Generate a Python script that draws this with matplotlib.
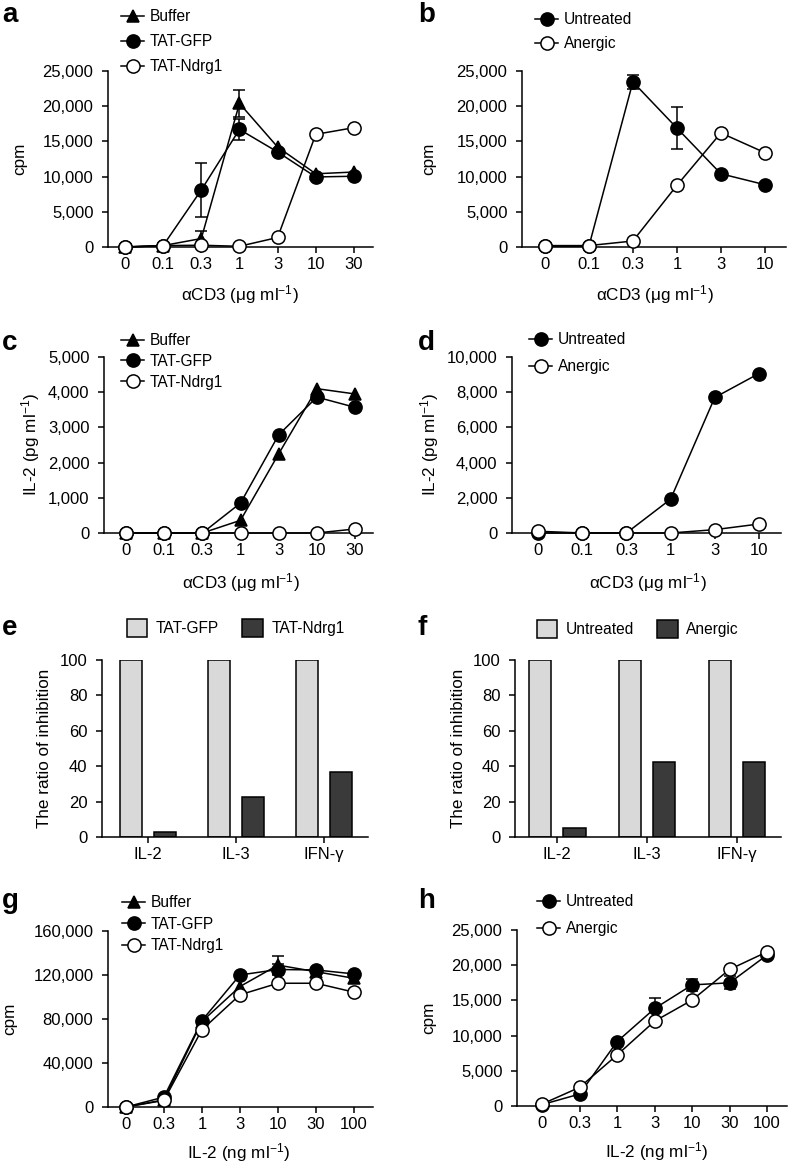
import numpy as np
import matplotlib
matplotlib.use("Agg")
import matplotlib.pyplot as plt
from matplotlib.lines import Line2D
from matplotlib.patches import Patch
from matplotlib.ticker import FuncFormatter

plt.rcParams["font.family"] = ["Liberation Sans", "DejaVu Sans"]
plt.rcParams["mathtext.fontset"] = "custom"
plt.rcParams["mathtext.rm"] = "Liberation Sans"
plt.rcParams["mathtext.it"] = "Liberation Sans:italic"
plt.rcParams["mathtext.default"] = "regular"

W, H = 788, 1162
FS = 12       # tick labels
FS_LAB = 12.3  # axis labels
FS_LEG = 11.2  # legends
LIGHT = "#d9d9d9"
DARK = "#3a3a3a"

# ---- data ----
cd3_7 = ["0", "0.1", "0.3", "1", "3", "10", "30"]
cd3_6 = ["0", "0.1", "0.3", "1", "3", "10"]
il2_dose = ["0", "0.3", "1", "3", "10", "30", "100"]
cytokines = ["IL-2", "IL-3", "IFN-γ"]

# a: proliferation vs aCD3 (cpm)
a_buffer = [0, 200, 1200, 20400, 14200, 10400, 10650]
a_buffer_err = [0, 0, 1100, 1900, 0, 0, 0]
a_gfp = [0, 200, 8100, 16700, 13500, 9950, 10050]
a_gfp_err = [0, 0, 3900, 1500, 0, 0, 0]
a_ndrg1 = [0, 200, 250, 100, 1350, 16000, 16950]

# b
b_untreated = [100, 100, 23450, 16900, 10400, 8850]
b_untreated_err = [0, 0, 950, 3050, 0, 0]
b_anergic = [200, 200, 850, 8750, 16200, 13400]

# c: IL-2 (pg/ml)
c_buffer = [0, 0, 0, 360, 2250, 4100, 3950]
c_gfp = [0, 0, 0, 850, 2790, 3860, 3570]
c_ndrg1 = [0, 0, 0, 0, 0, 0, 115]

# d
d_untreated = [0, 0, 0, 1920, 7700, 9060]
d_anergic = [100, 0, 0, 0, 190, 510]

# e, f: ratio of inhibition
e_gfp = [100, 100, 100]
e_ndrg1 = [2.8, 22.6, 36.8]
f_untreated = [100, 100, 100]
f_anergic = [5.3, 42.1, 42.5]

# g: proliferation vs IL-2 (cpm)
g_buffer = [0, 6500, 77700, 109500, 129000, 123000, 117000]
g_buffer_err = [0, 0, 0, 0, 8000, 0, 0]
g_gfp = [0, 9000, 78600, 120000, 125000, 124600, 121000]
g_gfp_err = [0, 0, 0, 0, 5000, 0, 0]
g_ndrg1 = [0, 6000, 70200, 102000, 112500, 112500, 104400]

# h
h_untreated = [200, 1700, 9150, 13850, 17200, 17500, 21450]
h_untreated_err = [0, 0, 0, 1500, 900, 900, 0]
h_anergic = [280, 2650, 7250, 12050, 15050, 19400, 21900]


def px_axes(fig, l, t, r, b):
    return fig.add_axes([l / W, 1 - b / H, (r - l) / W, (b - t) / H])


def style_axes(ax, xlim, ylim, yticks, xlabels):
    ax.spines["top"].set_visible(False)
    ax.spines["right"].set_visible(False)
    for sp in ("left", "bottom"):
        ax.spines[sp].set_linewidth(1.1)
    ax.set_xlim(*xlim)
    ax.set_ylim(*ylim)
    ax.set_yticks(yticks)
    ax.set_xticks(np.arange(len(xlabels)))
    ax.set_xticklabels(xlabels)
    ax.yaxis.set_major_formatter(FuncFormatter(lambda v, p: f"{v:,.0f}"))
    ax.tick_params(direction="out", length=4, width=1.1, labelsize=FS)
    ax.tick_params(axis="y", pad=6.5)
    ax.tick_params(axis="x", pad=3.5)


def label_axes(ax, box, ylab, ylab_x, xlab=None, xlab_cx=None, xlab_top=None):
    l, t, r, b = box
    ax.set_ylabel(ylab, fontsize=FS_LAB)
    ax.yaxis.set_label_coords((ylab_x - l) / (r - l), 0.5)
    if xlab:
        ax.set_xlabel(xlab, fontsize=FS_LAB, va="top")
        ax.xaxis.set_label_coords((xlab_cx - l) / (r - l), -(xlab_top - b) / (b - t))


def series(ax, y, marker, filled, err=None):
    x = np.arange(len(y))
    y = np.asarray(y, float)
    if err is not None:
        err = np.asarray(err, float)
        m = err > 0
        ax.errorbar(x[m], y[m], yerr=err[m], fmt="none", ecolor="black",
                    elinewidth=1.1, capsize=4, capthick=1.1, zorder=2, clip_on=False)
    ax.plot(x, y, color="black", lw=1.1, marker=marker, ms=9.5 if marker == "o" else 9,
            mfc="black" if filled else "white", mec="black", mew=1.1,
            zorder=3, clip_on=False)


def line_legend(ax, entries, x, y, spacing):
    handles = [Line2D([], [], color="black", lw=1.1, marker=m, ms=9.5 if m == "o" else 9,
                      mfc="black" if f else "white", mec="black", mew=1.1)
               for m, f, _ in entries]
    labels = [lab for _, _, lab in entries]
    ax.legend(handles, labels, loc="upper left", bbox_to_anchor=(x / W, 1 - y / H),
              bbox_transform=ax.figure.transFigure, frameon=False, fontsize=FS_LEG,
              borderpad=0, borderaxespad=0, handlelength=1.5, handletextpad=0.35,
              labelspacing=spacing)


def bar_legend(ax, labels, x, y, colspace):
    handles = [Patch(facecolor=LIGHT, edgecolor="black", lw=1.1),
               Patch(facecolor=DARK, edgecolor="black", lw=1.1)]
    ax.legend(handles, labels, loc="center left", bbox_to_anchor=(x / W, 1 - y / H),
              bbox_transform=ax.figure.transFigure, frameon=False, fontsize=FS_LEG, ncol=2,
              borderpad=0, borderaxespad=0, handlelength=1.3, handleheight=1.35,
              handletextpad=0.55, columnspacing=colspace)


def bars(ax, light, dark):
    x = np.arange(len(light))
    ax.bar(x - 0.19, light, width=0.25, color=LIGHT, edgecolor="black", lw=1.1, zorder=2)
    ax.bar(x + 0.19, dark, width=0.25, color=DARK, edgecolor="black", lw=1.1, zorder=2)


def panel_letter(fig, s, x, y):
    fig.text(x / W, 1 - y / H, s, fontsize=20, fontweight="bold", ha="left", va="top")


XCD3 = "αCD3 (μg ml$^{-1}$)"
XIL2 = "IL-2 (ng ml$^{-1}$)"
YIL2 = "IL-2 (pg ml$^{-1}$)"
YRAT = "The ratio of inhibition"

fig = plt.figure(figsize=(W / 100, H / 100), dpi=100, facecolor="white")

# a
box = (108, 71, 373, 247)
ax = px_axes(fig, *box)
style_axes(ax, (-0.445, 6.5), (0, 25000), [0, 5000, 10000, 15000, 20000, 25000], cd3_7)
series(ax, a_buffer, "^", True, a_buffer_err)
series(ax, a_gfp, "o", True, a_gfp_err)
series(ax, a_ndrg1, "o", False)
label_axes(ax, box, "cpm", 27, XCD3, 240, 283)
line_legend(ax, [("^", True, "Buffer"), ("o", True, "TAT-GFP"), ("o", False, "TAT-Ndrg1")],
            121, 9, 0.65)
panel_letter(fig, "a", 2, 2)

# b
box = (522, 71, 786, 247)
ax = px_axes(fig, *box)
style_axes(ax, (-0.52, 5.48), (0, 25000), [0, 5000, 10000, 15000, 20000, 25000], cd3_6)
series(ax, b_untreated, "o", True, b_untreated_err)
series(ax, b_anergic, "o", False)
label_axes(ax, box, "cpm", 436, XCD3, 655, 283)
line_legend(ax, [("o", True, "Untreated"), ("o", False, "Anergic")], 535, 12, 0.6)
panel_letter(fig, "b", 418, 2)

# c
box = (104, 357, 373, 533)
ax = px_axes(fig, *box)
style_axes(ax, (-0.576, 6.47), (0, 5000), [0, 1000, 2000, 3000, 4000, 5000], cd3_7)
series(ax, c_buffer, "^", True)
series(ax, c_gfp, "o", True)
series(ax, c_ndrg1, "o", False)
label_axes(ax, box, YIL2, 42, XCD3, 241, 571)
line_legend(ax, [("^", True, "Buffer"), ("o", True, "TAT-GFP"), ("o", False, "TAT-Ndrg1")],
            121, 333, 0.38)
panel_letter(fig, "c", 2, 330)

# d
box = (512, 357, 781, 533)
ax = px_axes(fig, *box)
style_axes(ax, (-0.59, 5.5), (0, 10000), [0, 2000, 4000, 6000, 8000, 10000], cd3_6)
series(ax, d_untreated, "o", True)
series(ax, d_anergic, "o", False)
label_axes(ax, box, YIL2, 441, XCD3, 648, 571)
line_legend(ax, [("o", True, "Untreated"), ("o", False, "Anergic")], 529, 332, 0.8)
panel_letter(fig, "d", 418, 330)

# e
box = (102, 660, 368, 837)
ax = px_axes(fig, *box)
style_axes(ax, (-0.52, 2.5), (0, 100), [0, 20, 40, 60, 80, 100], cytokines)
bars(ax, e_gfp, e_ndrg1)
label_axes(ax, box, YRAT, 52)
bar_legend(ax, ["TAT-GFP", "TAT-Ndrg1"], 127, 628, 1.5)
panel_letter(fig, "e", 2, 615)

# f
box = (515, 660, 781, 837)
ax = px_axes(fig, *box)
style_axes(ax, (-0.47, 2.49), (0, 100), [0, 20, 40, 60, 80, 100], cytokines)
bars(ax, f_untreated, f_anergic)
label_axes(ax, box, YRAT, 466)
bar_legend(ax, ["Untreated", "Anergic"], 537, 629, 1.5)
panel_letter(fig, "f", 418, 615)

# g
box = (108, 931, 373, 1107)
ax = px_axes(fig, *box)
style_axes(ax, (-0.47, 6.5), (0, 160000), [0, 40000, 80000, 120000, 160000], il2_dose)
series(ax, g_buffer, "^", True, g_buffer_err)
series(ax, g_gfp, "o", True, g_gfp_err)
series(ax, g_ndrg1, "o", False)
label_axes(ax, box, "cpm", 17, XIL2, 238, 1141)
line_legend(ax, [("^", True, "Buffer"), ("o", True, "TAT-GFP"), ("o", False, "TAT-Ndrg1")],
            122, 895, 0.42)
panel_letter(fig, "g", 2, 888)

# h
box = (517, 930, 787, 1106)
ax = px_axes(fig, *box)
style_axes(ax, (-0.67, 6.53), (0, 25000), [0, 5000, 10000, 15000, 20000, 25000], il2_dose)
series(ax, h_untreated, "o", True, h_untreated_err)
series(ax, h_anergic, "o", False)
label_axes(ax, box, "cpm", 436, XIL2, 656, 1140)
line_legend(ax, [("o", True, "Untreated"), ("o", False, "Anergic")], 537, 894, 0.8)
panel_letter(fig, "h", 418, 888)

fig.savefig("out.png", dpi=100, facecolor="white")
